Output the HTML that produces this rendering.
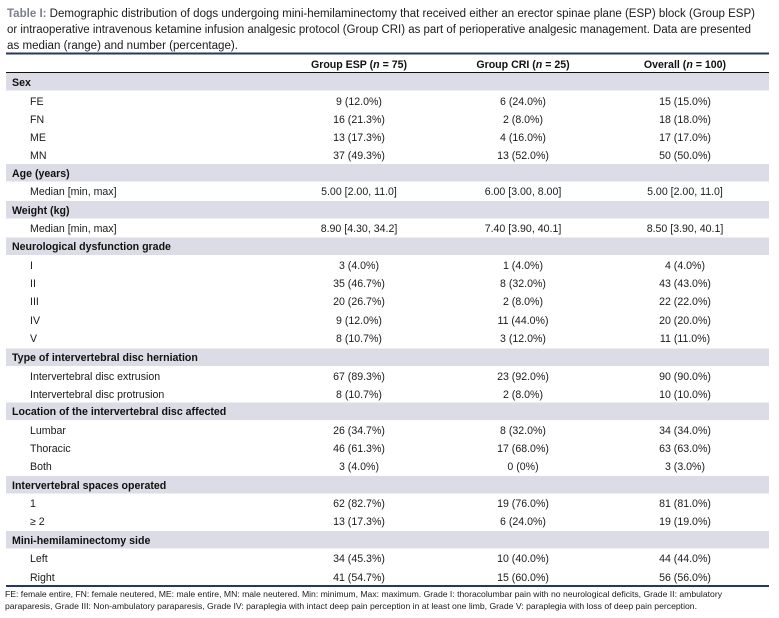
<!DOCTYPE html>
<html><head><meta charset="utf-8"><style>
html,body{margin:0;padding:0;background:#fff;}
svg{display:block;font-family:"Liberation Sans",sans-serif;}
.t{font-size:11.5px;fill:#1a1a1a;}
.b{font-size:10.6px;font-weight:bold;fill:#111;}
.r{font-size:10.6px;fill:#1a1a1a;}
.c{text-anchor:middle;}
.f{font-size:8.2px;fill:#1a1a1a;}
</style></head><body>
<svg width="779" height="618" viewBox="0 0 779 618">
<text class="t" x="7" y="17" textLength="748" lengthAdjust="spacingAndGlyphs"><tspan fill="#7a7f8c" font-weight="bold">Table I:</tspan> Demographic distribution of dogs undergoing mini-hemilaminectomy that received either an erector spinae plane (ESP) block (Group ESP)</text>
<text class="t" x="7" y="33" textLength="744" lengthAdjust="spacingAndGlyphs">or intraoperative intravenous ketamine infusion analgesic protocol (Group CRI) as part of perioperative analgesic management. Data are presented</text>
<text class="t" x="7" y="49" textLength="231" lengthAdjust="spacingAndGlyphs">as median (range) and number (percentage).</text>
<rect x="6" y="52.5" width="763" height="2" fill="#2a3560"/>
<text class="b c" x="359" y="68">Group ESP (<tspan font-style="italic">n</tspan> = 75)</text>
<text class="b c" x="523" y="68">Group CRI (<tspan font-style="italic">n</tspan> = 25)</text>
<text class="b c" x="685" y="68">Overall (<tspan font-style="italic">n</tspan> = 100)</text>
<rect x="6" y="72" width="763" height="1" fill="#111"/>
<g fill="#dcdce6">
<rect x="6" y="73" width="763" height="17.5"/>
<rect x="6" y="164" width="763" height="17.5"/>
<rect x="6" y="201" width="763" height="17.5"/>
<rect x="6" y="237.5" width="763" height="17.5"/>
<rect x="6" y="348.5" width="763" height="17.5"/>
<rect x="6" y="402.5" width="763" height="17.5"/>
<rect x="6" y="476" width="763" height="17.5"/>
<rect x="6" y="531" width="763" height="17.5"/>
</g>
<g class="b">
<text x="12" y="86">Sex</text>
<text x="12" y="177">Age (years)</text>
<text x="12" y="214">Weight (kg)</text>
<text x="12" y="250">Neurological dysfunction grade</text>
<text x="12" y="361">Type of intervertebral disc herniation</text>
<text x="12" y="415">Location of the intervertebral disc affected</text>
<text x="12" y="489">Intervertebral spaces operated</text>
<text x="12" y="544">Mini-hemilaminectomy side</text>
</g>
<g class="r">
<text x="30" y="105">FE</text><text class="c" x="359" y="105">9 (12.0%)</text><text class="c" x="523" y="105">6 (24.0%)</text><text class="c" x="685" y="105">15 (15.0%)</text>
<text x="30" y="123">FN</text><text class="c" x="359" y="123">16 (21.3%)</text><text class="c" x="523" y="123">2 (8.0%)</text><text class="c" x="685" y="123">18 (18.0%)</text>
<text x="30" y="141">ME</text><text class="c" x="359" y="141">13 (17.3%)</text><text class="c" x="523" y="141">4 (16.0%)</text><text class="c" x="685" y="141">17 (17.0%)</text>
<text x="30" y="159">MN</text><text class="c" x="359" y="159">37 (49.3%)</text><text class="c" x="523" y="159">13 (52.0%)</text><text class="c" x="685" y="159">50 (50.0%)</text>
<text x="30" y="195">Median [min, max]</text><text class="c" x="359" y="195">5.00 [2.00, 11.0]</text><text class="c" x="523" y="195">6.00 [3.00, 8.00]</text><text class="c" x="685" y="195">5.00 [2.00, 11.0]</text>
<text x="30" y="232">Median [min, max]</text><text class="c" x="359" y="232">8.90 [4.30, 34.2]</text><text class="c" x="523" y="232">7.40 [3.90, 40.1]</text><text class="c" x="685" y="232">8.50 [3.90, 40.1]</text>
<text x="30" y="269">I</text><text class="c" x="359" y="269">3 (4.0%)</text><text class="c" x="523" y="269">1 (4.0%)</text><text class="c" x="685" y="269">4 (4.0%)</text>
<text x="30" y="287">II</text><text class="c" x="359" y="287">35 (46.7%)</text><text class="c" x="523" y="287">8 (32.0%)</text><text class="c" x="685" y="287">43 (43.0%)</text>
<text x="30" y="305">III</text><text class="c" x="359" y="305">20 (26.7%)</text><text class="c" x="523" y="305">2 (8.0%)</text><text class="c" x="685" y="305">22 (22.0%)</text>
<text x="30" y="324">IV</text><text class="c" x="359" y="324">9 (12.0%)</text><text class="c" x="523" y="324">11 (44.0%)</text><text class="c" x="685" y="324">20 (20.0%)</text>
<text x="30" y="342">V</text><text class="c" x="359" y="342">8 (10.7%)</text><text class="c" x="523" y="342">3 (12.0%)</text><text class="c" x="685" y="342">11 (11.0%)</text>
<text x="30" y="380">Intervertebral disc extrusion</text><text class="c" x="359" y="380">67 (89.3%)</text><text class="c" x="523" y="380">23 (92.0%)</text><text class="c" x="685" y="380">90 (90.0%)</text>
<text x="30" y="398">Intervertebral disc protrusion</text><text class="c" x="359" y="398">8 (10.7%)</text><text class="c" x="523" y="398">2 (8.0%)</text><text class="c" x="685" y="398">10 (10.0%)</text>
<text x="30" y="434">Lumbar</text><text class="c" x="359" y="434">26 (34.7%)</text><text class="c" x="523" y="434">8 (32.0%)</text><text class="c" x="685" y="434">34 (34.0%)</text>
<text x="30" y="452">Thoracic</text><text class="c" x="359" y="452">46 (61.3%)</text><text class="c" x="523" y="452">17 (68.0%)</text><text class="c" x="685" y="452">63 (63.0%)</text>
<text x="30" y="470">Both</text><text class="c" x="359" y="470">3 (4.0%)</text><text class="c" x="523" y="470">0 (0%)</text><text class="c" x="685" y="470">3 (3.0%)</text>
<text x="30" y="507">1</text><text class="c" x="359" y="507">62 (82.7%)</text><text class="c" x="523" y="507">19 (76.0%)</text><text class="c" x="685" y="507">81 (81.0%)</text>
<text x="30" y="525">≥ 2</text><text class="c" x="359" y="525">13 (17.3%)</text><text class="c" x="523" y="525">6 (24.0%)</text><text class="c" x="685" y="525">19 (19.0%)</text>
<text x="30" y="562">Left</text><text class="c" x="359" y="562">34 (45.3%)</text><text class="c" x="523" y="562">10 (40.0%)</text><text class="c" x="685" y="562">44 (44.0%)</text>
<text x="30" y="581">Right</text><text class="c" x="359" y="581">41 (54.7%)</text><text class="c" x="523" y="581">15 (60.0%)</text><text class="c" x="685" y="581">56 (56.0%)</text>
</g>
<rect x="6" y="585" width="763" height="2" fill="#2a3560"/>
<text class="f" x="5" y="597" textLength="717" lengthAdjust="spacingAndGlyphs">FE: female entire, FN: female neutered, ME: male entire, MN: male neutered. Min: minimum, Max: maximum. Grade I: thoracolumbar pain with no neurological deficits, Grade II: ambulatory</text>
<text class="f" x="5" y="609" textLength="692" lengthAdjust="spacingAndGlyphs">paraparesis, Grade III: Non-ambulatory paraparesis, Grade IV: paraplegia with intact deep pain perception in at least one limb, Grade V: paraplegia with loss of deep pain perception.</text>
</svg>
</body></html>
